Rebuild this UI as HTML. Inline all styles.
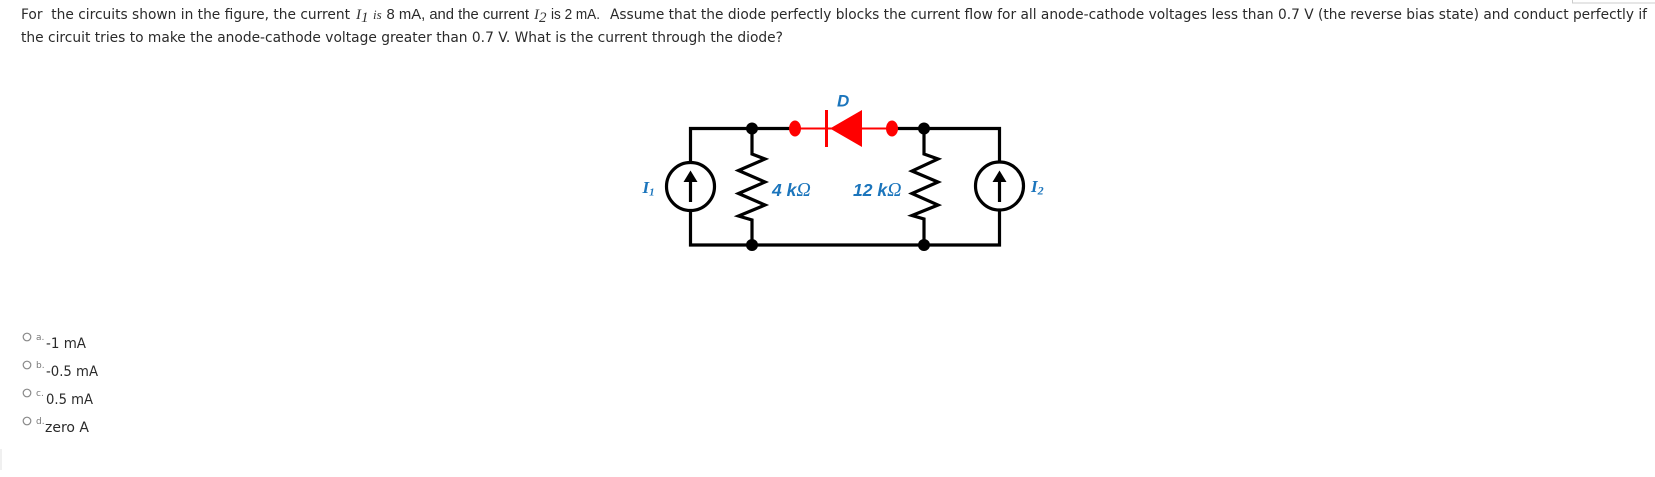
<!DOCTYPE html>
<html><head><meta charset="utf-8"><style>
html,body{margin:0;padding:0;background:#fff;width:1655px;height:477px;overflow:hidden}
svg{display:block}
.t{font-family:"DejaVu Sans","Liberation Sans",sans-serif;font-size:14px;fill:#2a2a2a}
.a{font-family:"Liberation Sans",sans-serif;font-size:15px;fill:#2a2a2a}
.m{font-family:"Liberation Serif",serif;font-style:italic;font-size:15px;fill:#333}
.s{font-family:"DejaVu Sans","Liberation Sans",sans-serif;font-size:9px;fill:#777}
.b{font-family:"Liberation Sans",sans-serif;font-style:italic;font-weight:bold;font-size:17.5px;fill:#1b75bc}
.o{font-family:"Liberation Serif",serif;font-style:italic;font-weight:normal}
.w{fill:none;stroke:#000;stroke-width:3.2}
</style></head><body>
<svg width="1655" height="477" viewBox="0 0 1655 477" xmlns="http://www.w3.org/2000/svg">
<rect x="1572.5" y="-2" width="90" height="5" fill="none" stroke="#ccc"/>
<rect x="0" y="449" width="2" height="21" fill="#f0f0f0"/>
<text class="t" x="21" y="19" textLength="329" lengthAdjust="spacingAndGlyphs" xml:space="preserve">For  the circuits shown in the figure, the current</text>
<text class="m" x="356" y="19">I<tspan font-size="15" dy="3">1</tspan></text>
<text class="m" x="373" y="19" style="font-size:13px">is</text>
<text class="a" x="386.5" y="19" textLength="142.5" lengthAdjust="spacingAndGlyphs">8 mA, and the current</text>
<text class="m" x="534" y="19">I<tspan font-size="15" dy="3">2</tspan></text>
<text class="a" x="551" y="19" textLength="49" lengthAdjust="spacingAndGlyphs">is 2 mA.</text>
<text class="t" x="610" y="19" textLength="1037" lengthAdjust="spacingAndGlyphs">Assume that the diode perfectly blocks the current flow for all anode-cathode voltages less than 0.7 V (the reverse bias state) and conduct perfectly if</text>
<text class="t" x="21" y="42" textLength="762" lengthAdjust="spacingAndGlyphs">the circuit tries to make the anode-cathode voltage greater than 0.7 V. What is the current through the diode?</text>

<path class="w" d="M795 128.5H752H690.5V162M690.5 210V245H999.5V210M999.5 162V128.5H892"/>
<path class="w" d="M752 128.5V154L765 159L738.5 170.5L765 182L738.5 193.5L765 205L738.5 216L752 220V245"/>
<path class="w" d="M924 128.5V154L938 159L912 171L938 182L912 193.5L938 205L912 215.5L924 219V245"/>
<circle class="w" cx="690.5" cy="186.5" r="24"/>
<circle class="w" cx="999.5" cy="186" r="24"/>
<path d="M690.5 202V180" stroke="#000" stroke-width="3.2"/>
<path d="M683.5 182L690.5 170.5L697.5 182Z" fill="#000"/>
<path d="M999.5 202V180" stroke="#000" stroke-width="3.2"/>
<path d="M992.5 182L999.5 170.5L1006.5 182Z" fill="#000"/>
<circle cx="752" cy="128.5" r="6"/><circle cx="924" cy="128.5" r="6"/>
<circle cx="752" cy="245" r="6"/><circle cx="924" cy="245" r="6"/>
<path d="M795 128.5H892" stroke="#f00" stroke-width="2"/>
<path d="M826.5 110V147" stroke="#f00" stroke-width="3"/>
<path d="M830 128.5L862 110V147Z" fill="#f00"/>
<ellipse cx="795" cy="128.5" rx="6" ry="8" fill="#f00"/>
<ellipse cx="892" cy="128.5" rx="6" ry="8" fill="#f00"/>
<text class="b" x="837" y="106.5" style="font-size:17px">D</text>
<text class="b" x="772" y="196">4 k<tspan class="o" font-size="20">Ω</tspan></text>
<text class="b" x="853" y="196">12 k<tspan class="o" font-size="20">Ω</tspan></text>
<text class="m" x="642.5" y="193" style="fill:#1b75bc;font-size:17px;font-weight:bold">I<tspan font-size="11" dy="2.5">1</tspan></text>
<text class="m" x="1031" y="192" style="fill:#1b75bc;font-size:17px;font-weight:bold">I<tspan font-size="12" dy="2.5">2</tspan></text>

<g fill="#fff" stroke="#888" stroke-width="1.2">
<circle cx="27" cy="337" r="3.8"/><circle cx="27" cy="365" r="3.8"/><circle cx="27" cy="393" r="3.8"/><circle cx="27" cy="421" r="3.8"/>
</g>
<text class="s" x="36" y="340">a.</text><text class="s" x="36" y="368">b.</text><text class="s" x="36" y="396">c.</text><text class="s" x="36" y="424">d.</text>
<text class="t" x="46" y="348" textLength="40" lengthAdjust="spacingAndGlyphs">-1 mA</text>
<text class="t" x="46" y="376" textLength="52" lengthAdjust="spacingAndGlyphs">-0.5 mA</text>
<text class="t" x="46" y="404" textLength="47" lengthAdjust="spacingAndGlyphs">0.5 mA</text>
<text class="t" x="45" y="432" textLength="44" lengthAdjust="spacingAndGlyphs">zero A</text>
</svg>
</body></html>
